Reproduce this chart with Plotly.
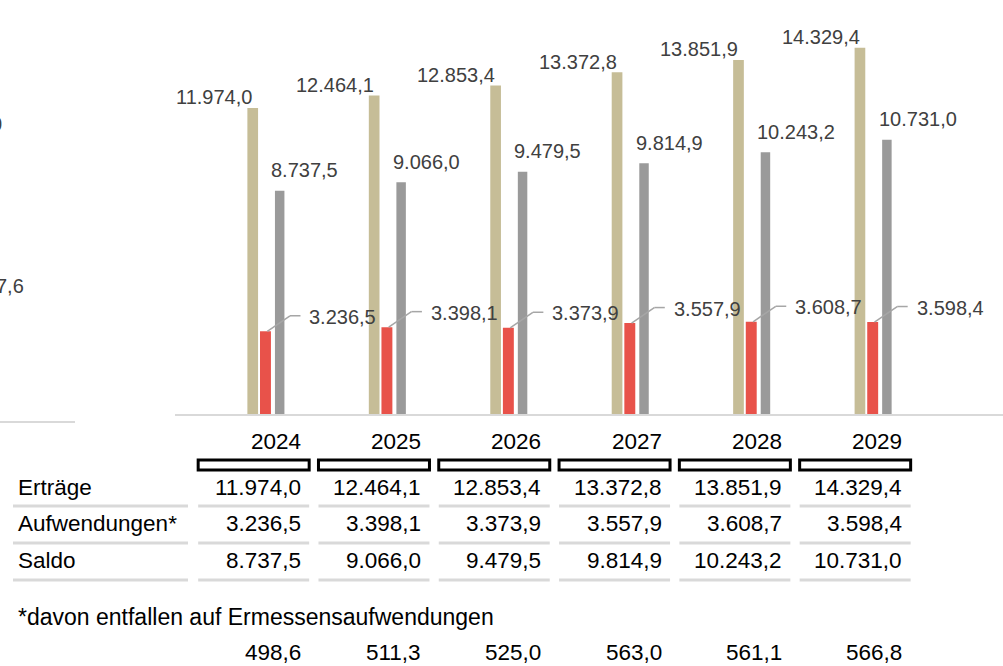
import plotly.graph_objects as go

years = ["2024", "2025", "2026", "2027", "2028", "2029"]
ertraege = [11974.0, 12464.1, 12853.4, 13372.8, 13851.9, 14329.4]
aufwendungen = [3236.5, 3398.1, 3373.9, 3557.9, 3608.7, 3598.4]
saldo = [8737.5, 9066.0, 9479.5, 9814.9, 10243.2, 10731.0]
ermessen = [498.6, 511.3, 525.0, 563.0, 561.1, 566.8]
row_labels = ["Erträge", "Aufwendungen*", "Saldo"]
footnote = "*davon entfallen auf Ermessensaufwendungen"
clipped_left_labels = ["0", "7,6"]

W, H = 1003, 666
C_BEIGE = "#c6bd97"
C_RED = "#e8524a"
C_GRAY = "#9a9a9a"
C_LINE = "#d9d9d9"
C_LABEL = "#404040"
FONT = "Liberation Sans, Arial, sans-serif"


def fmt(v):
    return f"{v:,.1f}".replace(",", "X").replace(".", ",").replace("X", ".")


def py(p):  # pixel y -> paper
    return 1 - p / H


def px(p):
    return p / W


fig = go.Figure()
fig.add_bar(x=years, y=ertraege, name="Erträge", marker_color=C_BEIGE,
            width=0.088, offset=-0.149, marker_line_width=0)
fig.add_bar(x=years, y=aufwendungen, name="Aufwendungen", marker_color=C_RED,
            width=0.09, offset=-0.045, marker_line_width=0)
fig.add_bar(x=years, y=saldo, name="Saldo", marker_color=C_GRAY,
            width=0.078, offset=0.078, marker_line_width=0)
# invisible trace carrying the categories of the table axis
fig.add_scatter(x=years, y=[0] * len(years), xaxis="x2", yaxis="y", mode="none",
                hoverinfo="skip", showlegend=False)

ann = []
shapes = []
lab_font = dict(family=FONT, size=20, color=C_LABEL)
tab_font = dict(family=FONT, size=22.5, color="#000000")
foot_font = dict(family=FONT, size=23, color="#000000")

for i, (e, a, s) in enumerate(zip(ertraege, aufwendungen, saldo)):
    ann.append(dict(x=i, y=e, xref="x", yref="y", text=fmt(e), showarrow=False,
                    xanchor="right", yanchor="middle", xshift=-11, yshift=10.5, font=lab_font))
    ann.append(dict(x=i, y=s, xref="x", yref="y", text=fmt(s), showarrow=False,
                    xanchor="left", yanchor="middle", xshift=4, yshift=20.5, font=lab_font))
    ann.append(dict(x=i, y=a, xref="x", yref="y", text=fmt(a), showarrow=False,
                    xanchor="left", yanchor="middle", xshift=42, yshift=14.5, font=lab_font))
    # leader line
    shapes.append(dict(type="line", xref="x", yref="y", xsizemode="pixel", ysizemode="pixel",
                       xanchor=i, yanchor=a, x0=1.8, y0=0, x1=24.5, y1=15.5,
                       line=dict(color="#a6a6a6", width=1.5)))
    shapes.append(dict(type="line", xref="x", yref="y", xsizemode="pixel", ysizemode="pixel",
                       xanchor=i, yanchor=a, x0=24.5, y0=15.5, x1=35, y1=15.5,
                       line=dict(color="#a6a6a6", width=1.5)))

# table header years + boxes (table columns follow axis x2)
for i, yr in enumerate(years):
    ann.append(dict(x=i, y=py(441), xref="x2", yref="paper", text=yr, showarrow=False,
                    xanchor="right", yanchor="middle", xshift=1, font=tab_font))
    shapes.append(dict(type="rect", xref="x2", yref="paper", xsizemode="pixel", xanchor=i,
                       x0=-103.5, x1=7.5, y0=py(470), y1=py(460),
                       line=dict(color="#000000", width=3), fillcolor="white"))

rows = [ertraege, aufwendungen, saldo]
row_y = [487, 523.5, 560]
line_y = [506, 543, 580]
for lab, vals, ry, ly in zip(row_labels, rows, row_y, line_y):
    ann.append(dict(x=px(16), y=py(ry), xref="paper", yref="paper", text=lab, showarrow=False,
                    xanchor="left", yanchor="middle", font=tab_font))
    shapes.append(dict(type="line", xref="paper", yref="paper", x0=px(13), x1=px(188),
                       y0=py(ly), y1=py(ly), line=dict(color=C_LINE, width=3)))
    for i, v in enumerate(vals):
        ann.append(dict(x=i, y=py(ry), xref="x2", yref="paper", text=fmt(v), showarrow=False,
                        xanchor="right", yanchor="middle", xshift=1, font=tab_font))
        shapes.append(dict(type="line", xref="x2", yref="paper", xsizemode="pixel", xanchor=i,
                           x0=-103.5, x1=7.5, y0=py(ly), y1=py(ly),
                           line=dict(color=C_LINE, width=3)))

ann.append(dict(x=px(16), y=py(617), xref="paper", yref="paper", text=footnote, showarrow=False,
                xanchor="left", yanchor="middle", font=foot_font))
for i, v in enumerate(ermessen):
    ann.append(dict(x=i, y=py(652), xref="x2", yref="paper", text=fmt(v), showarrow=False,
                    xanchor="right", yanchor="middle", xshift=1, font=tab_font))

# clipped labels from neighbouring chart at the left edge
ann.append(dict(x=px(4), y=py(124), xref="paper", yref="paper", text=clipped_left_labels[0],
                showarrow=False, xanchor="right", yanchor="middle", font=lab_font))
ann.append(dict(x=px(26), y=py(286), xref="paper", yref="paper", text=clipped_left_labels[1],
                showarrow=False, xanchor="right", yanchor="middle", font=lab_font))
shapes.append(dict(type="line", xref="paper", yref="paper", x0=0, x1=px(75),
                   y0=py(422), y1=py(422), line=dict(color=C_LINE, width=2)))

fig.update_layout(
    width=W, height=H, margin=dict(l=0, r=0, t=0, b=0),
    paper_bgcolor="white", plot_bgcolor="white", showlegend=False,
    barmode="overlay",
    xaxis=dict(type="category", domain=[px(175), 1], range=[-0.745, 6.073],
               showticklabels=False, showgrid=False, zeroline=False,
               showline=True, linecolor=C_LINE, linewidth=2, ticks=""),
    xaxis2=dict(type="category", domain=[px(175), 1], range=[-1.053, 5.830],
                overlaying="x", anchor="y", visible=False),
    yaxis=dict(domain=[py(414), 1], range=[0, 16197], visible=False),
    annotations=ann, shapes=shapes,
    font=dict(family=FONT),
)
fig.write_html("out.html", config={"displayModeBar": False},
               post_script="document.body.style.margin='0';document.body.style.padding='0';")
